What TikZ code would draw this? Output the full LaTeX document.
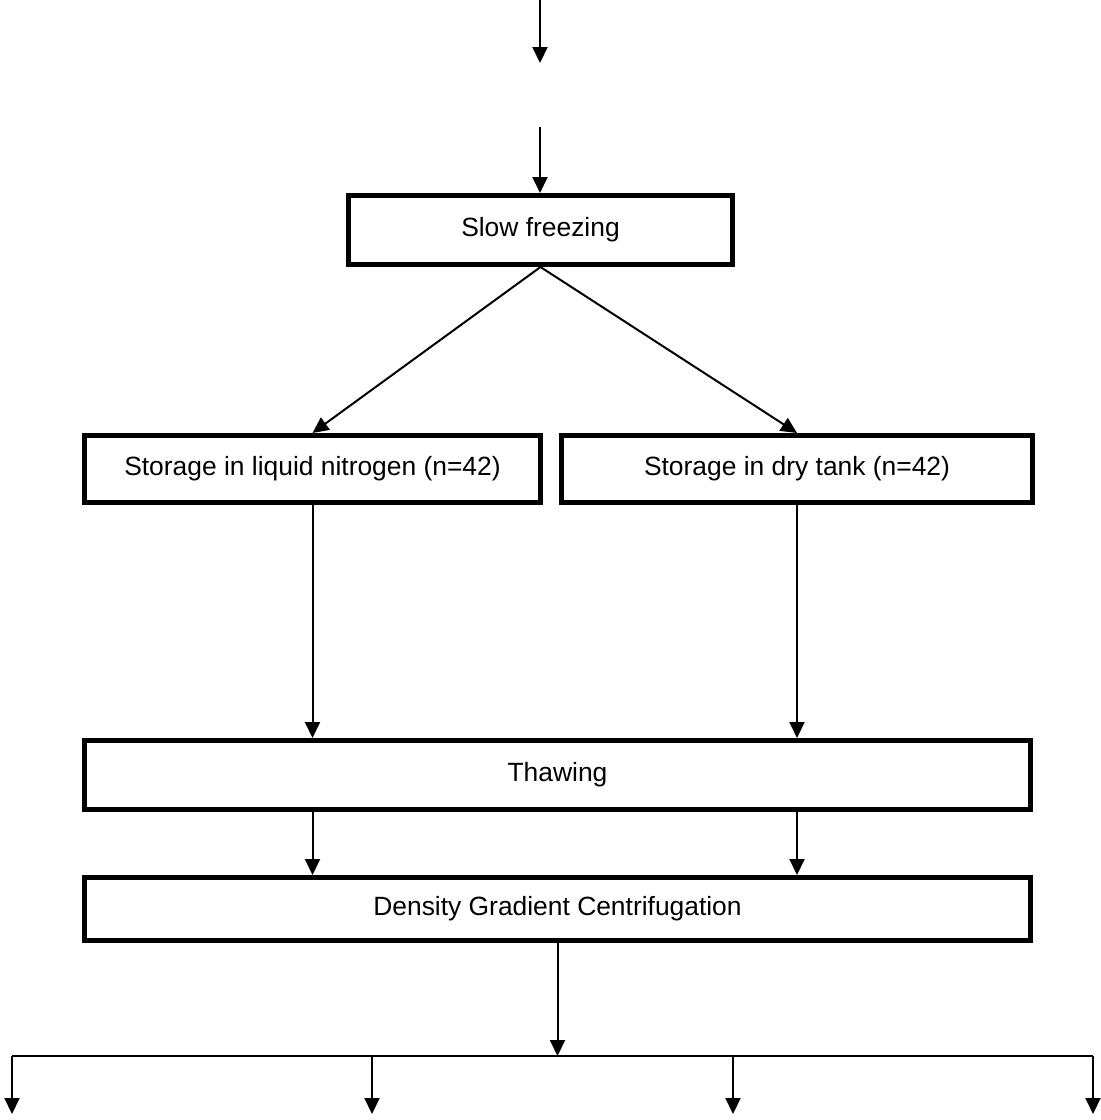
\documentclass[tikz,border=0pt]{standalone}
\usepackage{fontspec}
\setmainfont{Liberation Sans}
\usetikzlibrary{arrows.meta}
\begin{document}
\begin{tikzpicture}[x=1pt,y=-1pt,
  box/.style={draw=black,line width=5pt,fill=white,inner sep=0pt,
    font=\fontsize{26.4}{30}\selectfont},
  conn/.style={line width=2pt,draw=black},
  arr/.style={conn,-{Triangle[width=15pt,length=16pt]}}]
\useasboundingbox (0,0) rectangle (1101,1120);
% boxes
\node[box,minimum width=384pt,minimum height=69pt] (slow) at (540.5,230) {Slow freezing};
\node[box,minimum width=456pt,minimum height=67pt] (stL) at (312.5,469) {Storage in liquid nitrogen (n=42)};
\node[box,minimum width=471pt,minimum height=67pt] (stR) at (797,469) {Storage in dry tank (n=42)};
\node[box,minimum width=946pt,minimum height=69pt] (thaw) at (557.5,775) {Thawing};
\node[box,minimum width=946pt,minimum height=63pt] (dens) at (557.5,909) {Density Gradient Centrifugation};
% free ends
\coordinate (t0) at (540,0);
\coordinate (t1) at (540,63);
\coordinate (t2) at (540,127);
\coordinate (bar) at (557.5,1056);
\coordinate (bL) at (12,1056);
\coordinate (bR) at (1093,1056);
\coordinate (b1) at (12,1114);
\coordinate (b2) at (372,1114);
\coordinate (b3) at (733,1114);
\coordinate (b4) at (1093,1114);
% connectors
\draw[arr] (t0) -- (t1);
\draw[arr] (t2) -- (t2 |- slow.north);
\draw[arr] (slow.south) -- (stL.north);
\draw[arr] (slow.south) -- (stR.north);
\draw[arr] (stL.south) -- (stL.south |- thaw.north);
\draw[arr] (stR.south) -- (stR.south |- thaw.north);
\draw[arr] (stL.south |- thaw.south) -- (stL.south |- dens.north);
\draw[arr] (stR.south |- thaw.south) -- (stR.south |- dens.north);
\draw[arr] (dens.south) -- (bar);
\draw[conn] (bL) -- (bR);
\draw[arr] (bL) -- (b1);
\draw[arr] (b2 |- bL) -- (b2);
\draw[arr] (b3 |- bL) -- (b3);
\draw[arr] (bR) -- (b4);
\end{tikzpicture}
\end{document}
